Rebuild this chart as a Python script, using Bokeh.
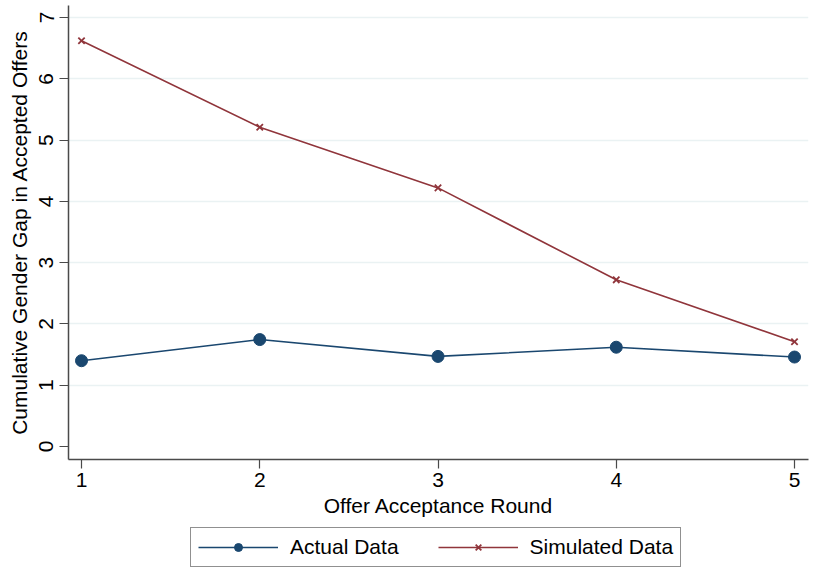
from bokeh.plotting import figure
from bokeh.layouts import column
from bokeh.models import Legend, LegendItem, Range1d, FixedTicker, ColumnDataSource
from bokeh.embed import file_html
from bokeh.resources import INLINE

# Offer acceptance rounds and cumulative gender gap values
rounds = [1, 2, 3, 4, 5]
actual_gap = [1.40, 1.745, 1.47, 1.62, 1.46]
simulated_gap = [6.62, 5.21, 4.22, 2.72, 1.71]

x_ticks = [1, 2, 3, 4, 5]
y_ticks = [0, 1, 2, 3, 4, 5, 6, 7]
y_grid = [1, 2, 3, 4, 5, 6, 7]
series_names = ["Actual Data", "Simulated Data"]

NAVY = "#1a476f"
MAROON = "#90353b"
AXIS = "#4a4a4a"
GRID = "#eaf2f3"
FONT = "Liberation Sans"
FS = "21px"

LINE_W = 1.6
DOT = dict(marker="circle", size=12, fill_color=NAVY, line_color=NAVY)
CROSS = dict(marker="x", size=9, line_color=MAROON, line_width=1.8)

src = ColumnDataSource(dict(x=rounds, actual=actual_gap, simulated=simulated_gap))

# ---- main chart -------------------------------------------------------------
p = figure(frame_width=740, frame_height=454, output_backend="svg",
           toolbar_location=None,
           x_range=Range1d(0.927, 5.0785), y_range=Range1d(-0.212, 7.196),
           min_border_left=68, min_border_right=8, min_border_top=5,
           min_border_bottom=64)
p.outline_line_color = None
p.background_fill_color = "white"
p.border_fill_color = "white"

# horizontal grid only
p.xgrid.grid_line_color = None
p.ygrid.ticker = FixedTicker(ticks=y_grid)
p.ygrid.grid_line_color = GRID
p.ygrid.grid_line_width = 1.5

for ax in (p.xaxis[0], p.yaxis[0]):
    ax.axis_line_color = AXIS
    ax.axis_line_width = 1.5
    ax.major_tick_line_color = AXIS
    ax.major_tick_line_width = 1.2
    ax.major_tick_in = 0
    ax.major_tick_out = 9
    ax.minor_tick_line_color = None
    ax.major_label_text_font = FONT
    ax.major_label_text_font_size = FS
    ax.major_label_text_color = "black"
    ax.axis_label_text_font = FONT
    ax.axis_label_text_font_size = FS
    ax.axis_label_text_font_style = "normal"
    ax.axis_label_text_color = "black"

p.xaxis.ticker = FixedTicker(ticks=x_ticks)
p.yaxis.ticker = FixedTicker(ticks=y_ticks)
p.yaxis.major_label_orientation = "vertical"
p.xaxis.axis_label = "Offer Acceptance Round"
p.yaxis.axis_label = "Cumulative Gender Gap in Accepted Offers"
p.xaxis.major_label_standoff = 4
p.xaxis.axis_label_standoff = 4
p.yaxis.major_label_standoff = 6
p.yaxis.axis_label_standoff = 6

p.line("x", "actual", source=src, line_color=NAVY, line_width=LINE_W)
p.scatter("x", "actual", source=src, **DOT)
p.line("x", "simulated", source=src, line_color=MAROON, line_width=LINE_W)
p.scatter("x", "simulated", source=src, **CROSS)

# ---- legend strip under the chart --------------------------------------------
lg = figure(frame_width=740, frame_height=46, output_backend="svg",
            toolbar_location=None,
            x_range=Range1d(0, 1), y_range=Range1d(0, 1),
            x_axis_location=None, y_axis_location=None,
            min_border_left=68, min_border_right=8, min_border_top=0,
            min_border_bottom=0)
lg.outline_line_color = None
lg.grid.visible = False
lg.background_fill_color = "white"
lg.border_fill_color = "white"

# legend swatches reuse the series styles; their single point is NaN so
# nothing is drawn in the strip itself
blank = ColumnDataSource(dict(x=[float("nan")], y=[float("nan")]))
la_line = lg.line("x", "y", source=blank, line_color=NAVY, line_width=LINE_W)
la_pts = lg.scatter("x", "y", source=blank, **DOT)
ls_line = lg.line("x", "y", source=blank, line_color=MAROON, line_width=LINE_W)
ls_pts = lg.scatter("x", "y", source=blank, **CROSS)

legend = Legend(items=[
    LegendItem(label=series_names[0], renderers=[la_line, la_pts]),
    LegendItem(label=series_names[1], renderers=[ls_line, ls_pts]),
], orientation="horizontal", location=(122, 2))
legend.glyph_width = 80
legend.glyph_height = 20
legend.label_standoff = 12
legend.spacing = 39
legend.padding = 7
legend.margin = 0
legend.label_text_font = FONT
legend.label_text_font_size = FS
legend.label_text_color = "black"
legend.border_line_color = "#222222"
legend.border_line_width = 1.2
legend.background_fill_color = "white"
lg.add_layout(legend, "center")

layout = column(p, lg, spacing=0)
open("out.html", "w").write(file_html(layout, INLINE))
